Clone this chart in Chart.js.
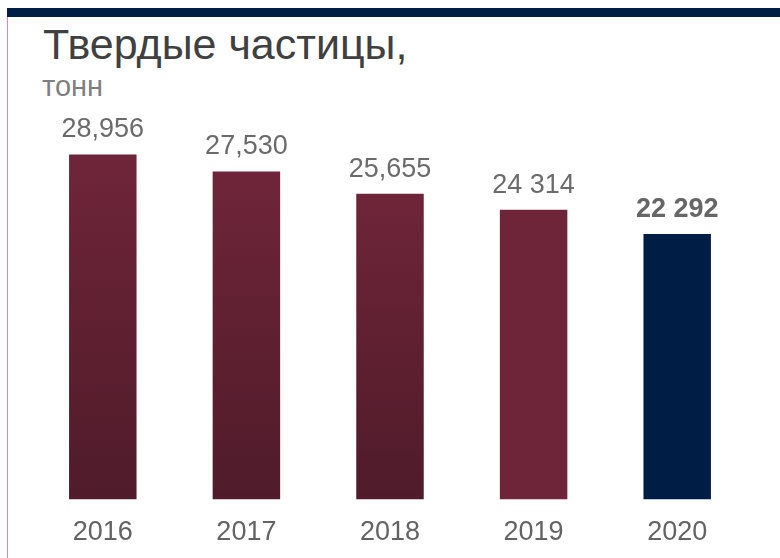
<!DOCTYPE html>
<html lang="ru">
<head>
<meta charset="utf-8">
<script src="https://cdn.jsdelivr.net/npm/chart.js@4/dist/chart.umd.min.js"></script>
<style>
  html, body {
    margin: 0;
    padding: 0;
    background: #ffffff;
  }
  body {
    width: 780px;
    height: 558px;
    position: relative;
    overflow: hidden;
    font-family: "Liberation Sans", Arial, sans-serif;
  }
  .top-band {
    position: absolute;
    left: 7px;
    top: 8px;
    width: 773px;
    height: 9px;
    background: #001e45;
  }
  .left-line {
    position: absolute;
    left: 7px;
    top: 17px;
    width: 1px;
    height: 541px;
    background: #df86a8;
  }
  .title {
    position: absolute;
    left: 43px;
    top: 23px;
    font-size: 43px;
    line-height: 43px;
    color: #404040;
    white-space: nowrap;
  }
  .unit {
    position: absolute;
    left: 42px;
    top: 72px;
    font-size: 29px;
    line-height: 29px;
    color: #7f7f7f;
    white-space: nowrap;
  }
  #chartBox {
    position: absolute;
    left: 0;
    top: 0;
    width: 780px;
    height: 576px;
  }
</style>
</head>
<body>
<div class="top-band"></div>
<div class="left-line"></div>
<div class="title">Твердые частицы,</div>
<div class="unit">тонн</div>
<div id="chartBox"><canvas id="particlesChart"></canvas></div>

<script>
const years = ["2016", "2017", "2018", "2019", "2020"];
const particleValues = [28956, 27530, 25655, 24314, 22292];
const valueLabels = ["28,956", "27,530", "25,655", "24 314", "22 292"];

const barTopColors = ["#6f2539", "#6f2539", "#6f2539", "#6e2539", "#001e45"];
const barBottomColors = ["#4f1b2a", "#4f1b2a", "#4f1b2a", "#6e2539", "#001e45"];

const fontFamily = '"Liberation Sans", Arial, sans-serif';

/* Value labels above the bars */

const valueLabelPlugin = {
  id: "valueLabels",
  afterDatasetsDraw(chart) {
    const ctx = chart.ctx;
    const meta = chart.getDatasetMeta(0);

    ctx.save();
    ctx.textAlign = "center";
    ctx.textBaseline = "alphabetic";

    meta.data.forEach((bar, index) => {
      const isLast = index === meta.data.length - 1;

      ctx.font = (isLast ? "bold " : "") + "27px " + fontFamily;
      ctx.fillStyle = isLast ? "#666666" : "#6b6b6b";
      ctx.fillText(valueLabels[index], bar.x, bar.y - 17);
    });

    ctx.restore();
  },
};

const particlesCanvas = document.getElementById("particlesChart");

if (particlesCanvas && typeof Chart !== "undefined") {
  new Chart(particlesCanvas, {
    type: "bar",
    data: {
      labels: years,
      datasets: [
        {
          label: "Твердые частицы, тонн",
          data: particleValues,
          backgroundColor: function (context) {
            const chart = context.chart;
            const index = context.dataIndex;
            const area = chart.chartArea;

            if (!area || index === undefined) {
              return barTopColors[index || 0];
            }

            const yTop = chart.scales.y.getPixelForValue(particleValues[index]);
            const gradient = chart.ctx.createLinearGradient(0, yTop, 0, area.bottom);
            gradient.addColorStop(0, barTopColors[index]);
            gradient.addColorStop(1, barBottomColors[index]);

            return gradient;
          },
          borderWidth: 0,
          categoryPercentage: 1,
          barPercentage: 0.47,
        },
      ],
    },
    options: {
      responsive: true,
      maintainAspectRatio: false,
      animation: false,
      layout: {
        padding: {
          top: 142,
          left: 31,
          right: 31,
          bottom: 10,
        },
      },
      plugins: {
        legend: {
          display: false,
        },
        tooltip: {
          enabled: false,
        },
      },
      scales: {
        x: {
          grid: {
            display: false,
            drawTicks: false,
          },
          border: {
            display: false,
          },
          ticks: {
            padding: 17,
            color: "#636363",
            font: {
              family: fontFamily,
              size: 27,
            },
          },
        },
        y: {
          display: false,
          min: 0,
          max: 30000,
        },
      },
    },
    plugins: [valueLabelPlugin],
  });
}
</script>
</body>
</html>
